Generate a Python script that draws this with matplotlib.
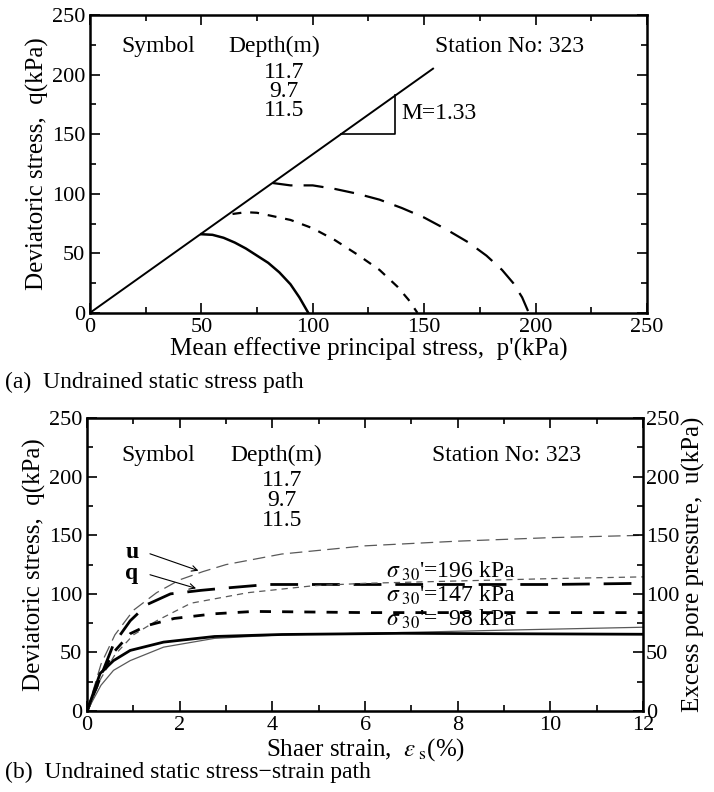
import numpy as np
import matplotlib
matplotlib.use("Agg")
import matplotlib.pyplot as plt
from matplotlib.ticker import MultipleLocator

plt.rcParams['font.family'] = ['Liberation Serif', 'DejaVu Serif']
plt.rcParams['mathtext.fontset'] = 'stix'

# ---- (a) stress paths, p' vs q
cs_line_p = [0, 154]
cs_line_q = [0, 205]
p_117 = [82, 90, 100, 110, 120, 130, 140, 150, 160, 170, 178, 185, 190, 194, 197]
q_117 = [109, 107, 107, 104, 100, 95, 88, 80, 70, 59, 48, 36, 25, 13, 0]
p_97 = [64, 70, 75, 80, 90, 100, 110, 120, 130, 138, 143, 147]
q_97 = [83, 84.5, 84, 82, 78, 71, 61, 49, 36, 22, 11, 0]
p_115 = [50, 55, 60, 65, 70, 75, 80, 85, 90, 94, 98]
q_115 = [66, 65.5, 63, 59, 54, 48, 42, 34, 24, 13, 0]

# ---- (b) stress-strain, strain (%) vs q and u
strain_q196 = [0, 0.3, 0.57, 0.93, 1.3, 1.8, 2.46, 3.0, 3.9, 6.0, 8.0, 10.0, 12.0]
q196 = [0, 30, 57, 77, 91, 100, 103, 105, 108, 108, 108, 108, 109]
strain_u196 = [0, 0.3, 0.6, 1.0, 1.5, 2.0, 2.5, 3.0, 4.2, 6.0, 8.0, 10.0, 12.0]
u196 = [0, 40, 65, 86, 101, 112, 119, 125, 134, 141, 145, 148, 150]
strain_q147 = [0, 0.3, 0.57, 0.93, 1.3, 1.88, 2.75, 3.6, 6.0, 8.0, 12.0]
q147 = [0, 30, 50, 66, 73, 79, 83, 85, 84, 84, 84]
strain_u147 = [0, 0.3, 0.6, 1.0, 1.5, 2.24, 3.47, 4.9, 6.0, 8.0, 10.0, 12.0]
u147 = [0, 28, 48, 65, 77, 92, 101, 107, 109, 111, 113, 114.5]
strain_q98 = [0, 0.28, 0.57, 0.93, 1.65, 2.75, 4.2, 6.8, 12.0]
q98 = [0, 32, 43, 51.7, 58.8, 63.6, 65.3, 66.3, 65.5]
strain_u98 = [0, 0.3, 0.57, 0.93, 1.65, 2.75, 4.2, 6.8, 9.0, 12.0]
u98 = [0, 22, 34.7, 43, 54.5, 62, 65, 67, 69, 71.5]

depths = ['11.7', '9.7', '11.5']
sigma_labels = ["=196 kPa", "=147 kPa", "=  98 kPa"]

fig = plt.figure(figsize=(7.14, 7.92), dpi=100)
ax1 = fig.add_axes([0.126, 0.605, 0.780, 0.376])
ax2 = fig.add_axes([0.122, 0.1023, 0.7786, 0.3697])

fs = 17
fs_tick = 16
fs_lab = 18

def style(ax):
    ax.tick_params(which='both', direction='in', top=True, right=True, labelsize=fs_tick, width=1.2)
    ax.tick_params(which='major', length=7)
    ax.tick_params(which='minor', length=4)
    for s in ax.spines.values():
        s.set_linewidth(1.8)

# (a)
ax1.plot(cs_line_p, cs_line_q, color='k', lw=1.4)
ax1.plot([112.8, 137, 137], [150, 150, 182.5], color='k', lw=1.2)
ax1.plot(p_117, q_117, color='k', lw=1.6, dashes=(9, 5))
ax1.plot(p_97, q_97, color='k', lw=1.6, dashes=(4, 4))
ax1.plot(p_115, q_115, color='k', lw=1.8)
ax1.text(140, 167, 'M=1.33', fontsize=fs, va='center')
ax1.text(14, 224, 'Symbol', fontsize=fs, va='center')
ax1.text(62, 224, 'Depth(m)', fontsize=fs, va='center')
for i, d in enumerate(depths):
    ax1.text(87, 202 - i * 16, d, fontsize=fs, va='center', ha='center')
ax1.text(155, 224, 'Station No: 323', fontsize=fs, va='center')
ax1.set_xlim(0, 250)
ax1.set_ylim(0, 250)
ax1.xaxis.set_major_locator(MultipleLocator(50))
ax1.xaxis.set_minor_locator(MultipleLocator(25))
ax1.yaxis.set_major_locator(MultipleLocator(50))
ax1.yaxis.set_minor_locator(MultipleLocator(25))
style(ax1)
ax1.set_xlabel("Mean effective principal stress,  p'(kPa)", fontsize=fs_lab, labelpad=1)
ax1.set_ylabel("Deviatoric stress,  q(kPa)", fontsize=fs_lab, labelpad=2)
fig.text(0.007, 0.517, "(a)  Undrained static stress path", fontsize=fs, va='center')

# (b)
ax2.plot(strain_u196, u196, color='0.35', lw=0.9, dashes=(10, 5))
ax2.plot(strain_q196, q196, color='k', lw=2.0, dashes=(10, 5))
ax2.plot(strain_u147, u147, color='0.35', lw=0.9, dashes=(5, 4))
ax2.plot(strain_q147, q147, color='k', lw=2.0, dashes=(4, 4))
ax2.plot(strain_u98, u98, color='0.35', lw=0.9)
ax2.plot(strain_q98, q98, color='k', lw=2.0)
ax2.set_xlim(0, 12)
ax2.set_ylim(0, 250)
ax2.xaxis.set_major_locator(MultipleLocator(2))
ax2.xaxis.set_minor_locator(MultipleLocator(1))
ax2.yaxis.set_major_locator(MultipleLocator(50))
ax2.yaxis.set_minor_locator(MultipleLocator(25))
style(ax2)
ax2.tick_params(right=False, which='both')
ax2r = ax2.twinx()
ax2r.set_ylim(0, 250)
ax2r.yaxis.set_major_locator(MultipleLocator(50))
ax2r.yaxis.set_minor_locator(MultipleLocator(25))
ax2r.tick_params(which='both', direction='in', labelsize=fs_tick, width=1.2, pad=2)
ax2r.tick_params(which='major', length=7)
ax2r.tick_params(which='minor', length=4)
ax2r.set_ylabel("Excess pore pressure,  u(kPa)", fontsize=fs_lab, labelpad=2)

ax2.text(0.75, 218, 'Symbol', fontsize=fs, va='center')
ax2.text(3.1, 218, 'Depth(m)', fontsize=fs, va='center')
for i, d in enumerate(depths):
    ax2.text(4.2, 197 - i * 17, d, fontsize=fs, va='center', ha='center')
ax2.text(7.45, 218, 'Station No: 323', fontsize=fs, va='center')

ax2.text(0.82, 135, 'u', fontsize=fs, fontweight='bold', va='center')
ax2.text(0.82, 117, 'q', fontsize=fs, fontweight='bold', va='center')
ax2.annotate('', xy=(2.46, 119), xytext=(1.3, 135),
             arrowprops=dict(arrowstyle='->', lw=0.8, color='k'))
ax2.annotate('', xy=(2.41, 104), xytext=(1.3, 117),
             arrowprops=dict(arrowstyle='->', lw=0.8, color='k'))
for yy, s in zip([119, 98.5, 78], sigma_labels):
    ax2.text(6.45, yy, r"$\sigma_{\ 30}$'" + s, fontsize=fs, va='center')

ax2.set_xlabel(r"Shaer strain,  $\varepsilon_{\ \mathrm{s}}$(%)", fontsize=fs_lab, labelpad=1)
ax2.set_ylabel("Deviatoric stress,  q(kPa)", fontsize=fs_lab, labelpad=2)
fig.text(0.007, 0.025, "(b)  Undrained static stress\u2212strain path", fontsize=fs, va='center')

fig.savefig('out.png', dpi=100)
